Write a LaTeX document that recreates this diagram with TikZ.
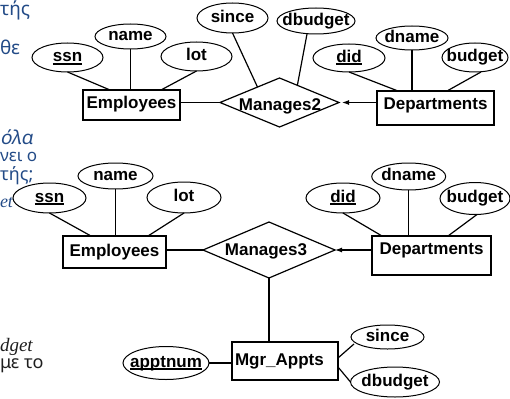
\documentclass[tikz,border=0pt]{standalone}
\usepackage{fontspec}
\setmainfont{Liberation Sans}
\newfontfamily\greekfont{Noto Sans}
\newfontfamily\greekslant[FakeSlant=0.2]{Noto Sans}
\newfontfamily\bookfont{Liberation Serif}
\usetikzlibrary{shapes.geometric,arrows.meta,calc}
\definecolor{slideblue}{RGB}{35,75,135}
\definecolor{slidegray}{RGB}{30,30,30}
% underlined key attribute
\newcommand{\ukey}[1]{\setbox0=\hbox{#1}\rlap{\rule[-2.8pt]{\wd0}{1.7pt}}\box0}

\begin{document}
\begin{tikzpicture}[x=1pt,y=-1pt,
  every node/.style={inner sep=0pt, outer sep=0pt},
  lbl/.style={font=\fontsize{17}{20}\selectfont\bfseries},
  entity/.style 2 args={lbl, draw, rectangle, line width=1.2pt, fill=white,
    text height=#1pt, text depth=#2pt},
  attr/.style={lbl, draw, ellipse, line width=1pt, fill=white,
    inner xsep=-12pt, text height=12.3pt, text depth=3.6pt},
  rel/.style={draw, diamond, line width=1.2pt, fill=white, aspect=2.4},
  link/.style={line width=1.2pt},
  arr/.style={-{Latex[length=7pt,width=5pt]}},
  slidetext/.style={font=\greekfont\fontsize{19}{22}\selectfont, text=slideblue, anchor=base west},
  slideit/.style={font=\greekslant\fontsize{19}{22}\selectfont, text=slideblue, anchor=base west}]

\useasboundingbox (0,0) rectangle (510,398);

% text of the slide behind the diagrams
\node[slidetext] (g1) at (0,16) {τής};
\node[slidetext] (g2) at (0,55) {θε};
\node[slideit] (g3) at (0,144) {όλα};
\node[slidetext, font=\greekfont\fontsize{17}{20}\selectfont] (g4) at (0,161) {νει ο};
\node[slidetext, font=\greekfont\fontsize{18}{20}\selectfont] (g5) at (0,180) {τής;};
\node[font=\bookfont\itshape\fontsize{18}{20}\selectfont, text=slideblue, anchor=base west] (g6) at (0,207) {et};
\node[font=\bookfont\itshape\fontsize{19}{20}\selectfont, text=slidegray, anchor=base west] (g7) at (0,351) {dget};
\node[font=\greekfont\fontsize{18}{20}\selectfont, text=slidegray, anchor=base west] (g8) at (0,368) {με το};

% ---- Manages2 ----
\node[entity={18.8}{11.2}, minimum width=97pt] (emp1) at (131.5,105) {Employees};
\node[entity={18.1}{15.9}, minimum width=117pt] (dep1) at (435.5,108) {Departments};
\node[rel, minimum width=119pt, minimum height=49pt] (m2) at (279.5,102.5) {};
\node[lbl, anchor=base] (m2t) at ($(m2)+(0.5,8.2)$) {Manages2};

\node[attr, minimum width=71pt, minimum height=29pt] (ssn1) at (67.5,57.5) {\ukey{ssn}};
\node[attr, minimum width=71pt, minimum height=25pt] (name1) at (130.5,36.5) {name};
\node[attr, minimum width=71pt, minimum height=29pt] (lot1) at (196.5,56.5) {lot};
\node[attr, minimum width=71pt, minimum height=30pt] (since1) at (232.5,18) {since};
\node[attr, minimum width=78pt, minimum height=26pt] (dbudget1) at (316,21) {dbudget};
\node[attr, minimum width=72pt, minimum height=28pt] (did1) at (349,58) {\ukey{did}};
\node[attr, minimum width=72pt, minimum height=24pt] (dname1) at (412,38) {dname};
\node[attr, minimum width=66pt, minimum height=29pt] (budget1) at (475,57.5) {budget};

\draw[link] (ssn1.south) -- ($(emp1.north west)+(27,0)$);
\draw[link] (name1.south) -- (name1.south |- emp1.north);
\draw[link] (lot1.south) -- ($(emp1.north west)+(78,0)$);
\draw[link] (since1.south) -- ($(m2.west)!0.63!(m2.north)$);
\draw[link] ($(dbudget1.south)+(-9,0)$) -- ($(m2.north)!0.3!(m2.east)$);
\draw[link] (emp1.east |- m2.west) -- (m2.west);
\draw[link, arr, shorten >=3pt] (dep1.west |- m2.east) -- (m2.east);
\draw[link] (did1.south) -- ($(dep1.north west)+(21,0)$);
\draw[link] (dname1.south) -- (dname1.south |- dep1.north);
\draw[link] ($(budget1.south)+(6,0)$) -- ($(dep1.north west)+(70,0)$);

% ---- Manages3 with Mgr_Appts ----
\node[entity={20.1}{11.9}, minimum width=103pt] (emp2) at (114.5,252) {Employees};
\node[entity={18.1}{20.9}, minimum width=119pt] (dep2) at (431.5,255.5) {Departments};
\node[rel, minimum width=132pt, minimum height=56pt] (m3) at (269,250) {};
\node[lbl, anchor=base] (m3t) at ($(m3)+(-3,5)$) {Manages3};
\node[entity={23.1}{14.9}, text width=100pt, align=left, inner xsep=3pt] (mgr) at (285,361) {Mgr\_Appts};

\node[attr, minimum width=75pt, minimum height=26pt] (name2) at (115.5,176) {name};
\node[attr, minimum width=73pt, minimum height=30pt] (ssn2) at (49.5,198) {\ukey{ssn}};
\node[attr, minimum width=74pt, minimum height=31pt] (lot2) at (184,197.5) {lot};
\node[attr, minimum width=74pt, minimum height=30pt] (did2) at (343,198) {\ukey{did}};
\node[attr, minimum width=74pt, minimum height=27pt] (dname2) at (408.7,176.5) {dname};
\node[attr, minimum width=70pt, minimum height=32pt] (budget2) at (475,198.5) {budget};
\node[attr, minimum width=86pt, minimum height=33pt] (apptnum) at (166,363) {\ukey{apptnum}};
\node[attr, minimum width=73pt, minimum height=24pt] (since2) at (387.5,337) {since};
\node[attr, minimum width=89pt, minimum height=30pt] (dbudget2) at (395,382) {dbudget};

\draw[link] (ssn2.south) -- ($(emp2.north west)+(28,0)$);
\draw[link] (name2.south) -- (name2.south |- emp2.north);
\draw[link] (lot2.south) -- ($(emp2.north west)+(85,0)$);
\draw[link] (emp2.east |- m3.west) -- (m3.west);
\draw[link] (did2.south) -- ($(dep2.north west)+(10,0)$);
\draw[link] (dname2.south) -- (dname2.south |- dep2.north);
\draw[link] ($(budget2.south)+(2,0)$) -- ($(dep2.north west)+(76,0)$);
\draw[link, arr] (dep2.west |- m3.east) -- (m3.east);
\draw[link] (m3.south) -- (m3.south |- mgr.north);
\draw[link] (apptnum.east) -- (mgr.west |- apptnum.east);
\draw[link] ($(mgr.east)+(0,-3)$) -- ($(since2.west)+(3,7)$);
\draw[link] ($(mgr.east)+(0,6)$) -- (dbudget2.west);
\end{tikzpicture}
\end{document}
